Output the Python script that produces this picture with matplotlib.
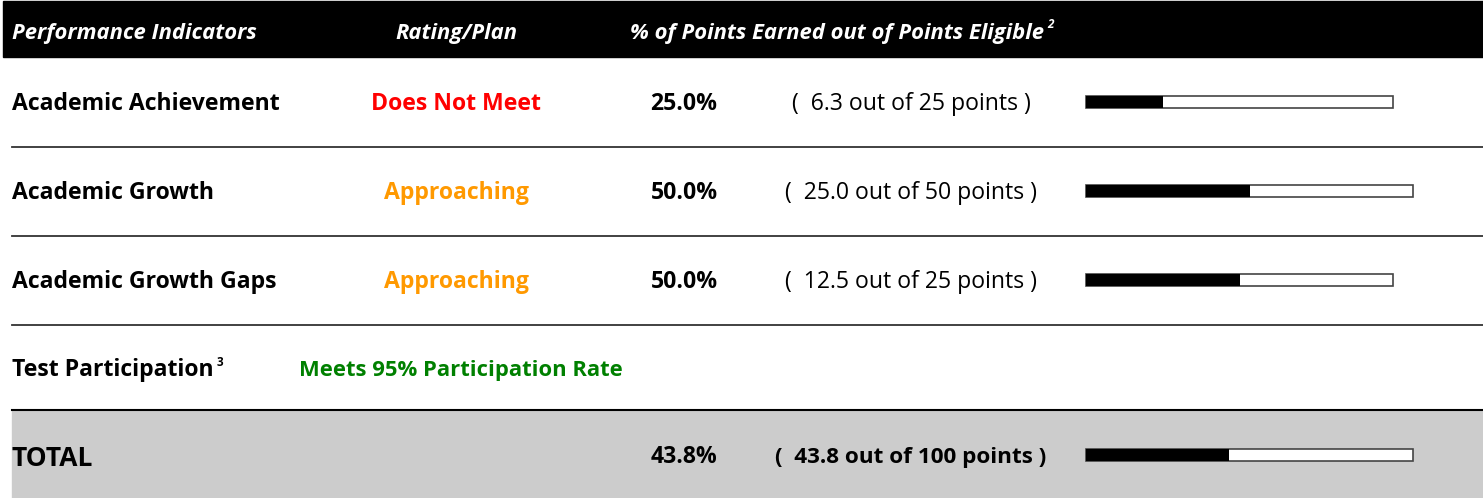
import matplotlib.pyplot as plt

# Data
indicators = ["Academic Achievement", "Academic Growth", "Academic Growth Gaps"]
ratings = ["Does Not Meet", "Approaching", "Approaching"]
rating_colors = ["#ff0000", "#ff9900", "#ff9900"]
pct_earned = [25.0, 50.0, 50.0]
pts_earned = [6.3, 25.0, 12.5]
pts_eligible = [25, 50, 25]

participation_label = "Test Participation"
participation_rating = "Meets 95% Participation Rate"

total_pct = 43.8
total_earned = 43.8
total_eligible = 100

# layout (pixel coords)
W, H = 1483, 498
row_y = [102, 191, 280]
part_y = 368
total_y = 455
bar_left = 1086
bar_len = [307, 327, 307]
total_bar_len = 327
bar_h = 12
dy = 2  # text baseline nudge

plt.rcParams['font.family'] = ['Open Sans', 'DejaVu Sans']

fig = plt.figure(figsize=(W / 100, H / 100), dpi=100)
ax = fig.add_axes([0, 0, 1, 1])
ax.set_xlim(0, W)
ax.set_ylim(H, 0)
ax.axis('off')
renderer = fig.canvas.get_renderer()


def sup_after(t, s, y, **kw):
    # put a small superscript right after text t
    bb = t.get_window_extent(renderer)
    ax.text(bb.x1 + 3, y, s, ha='left', va='center', **kw)


# header band
ax.axhspan(1, 57, xmin=0.002, color='black', zorder=0)
hdr = dict(color='white', fontsize=15.8, fontweight='bold', style='italic', va='center')
ax.text(12, 31 + dy, "Performance Indicators", ha='left', **hdr)
ax.text(456, 31 + dy, "Rating/Plan", ha='center', **hdr)
t = ax.text(630, 31 + dy, "% of Points Earned out of Points Eligible", ha='left', **hdr)
sup_after(t, "2", 24, color='white', fontsize=8.5, fontweight='bold', style='italic')

# separators
for y in [147, 236, 325]:
    ax.plot([12, W], [y, y], color='#333333', lw=1.3, zorder=1)

# total band
ax.fill_between([12, W], 410, H, color='#cccccc', zorder=0)
ax.plot([12, W], [410, 410], color='black', lw=1.5, zorder=1)

row_fs = 16.6
for i, name in enumerate(indicators):
    y = row_y[i] + dy
    ax.text(12, y, name, fontsize=row_fs, fontweight='bold', ha='left', va='center')
    ax.text(456, y, ratings[i], fontsize=row_fs, fontweight='bold', ha='center', va='center',
            color=rating_colors[i])
    ax.text(684, y, f"{pct_earned[i]:.1f}%", fontsize=row_fs, fontweight='bold',
            ha='center', va='center')
    ax.text(911, y, f"(  {pts_earned[i]:.1f} out of {pts_eligible[i]} points )",
            fontsize=row_fs, ha='center', va='center')

# progress bars
ax.barh(row_y, bar_len, left=bar_left, height=bar_h, color='white',
        edgecolor='#444444', lw=1.2, zorder=2)
ax.barh(row_y, [p / 100 * l for p, l in zip(pct_earned, bar_len)], left=bar_left,
        height=bar_h, color='black', zorder=3)

# test participation
t = ax.text(12, part_y + dy, participation_label, fontsize=row_fs, fontweight='bold',
            ha='left', va='center')
sup_after(t, "3", part_y - 6, fontsize=8.5, fontweight='bold')
ax.text(299, part_y + dy, participation_rating, fontsize=15.8, fontweight='bold', ha='left',
        va='center', color='#008000')

# total row
ax.text(12, total_y + dy + 1, "TOTAL", fontsize=19, fontweight='bold', ha='left', va='center')
ax.text(684, total_y + dy, f"{total_pct:.1f}%", fontsize=row_fs, fontweight='bold',
        ha='center', va='center')
ax.text(911, total_y + dy, f"(  {total_earned:.1f} out of {total_eligible} points )",
        fontsize=16.2, fontweight='bold', ha='center', va='center')
ax.barh([total_y], [total_bar_len], left=bar_left, height=bar_h, color='white',
        edgecolor='#444444', lw=1.2, zorder=2)
ax.barh([total_y], [total_pct / 100 * total_bar_len], left=bar_left, height=bar_h,
        color='black', zorder=3)

fig.savefig("out.png", dpi=100)
